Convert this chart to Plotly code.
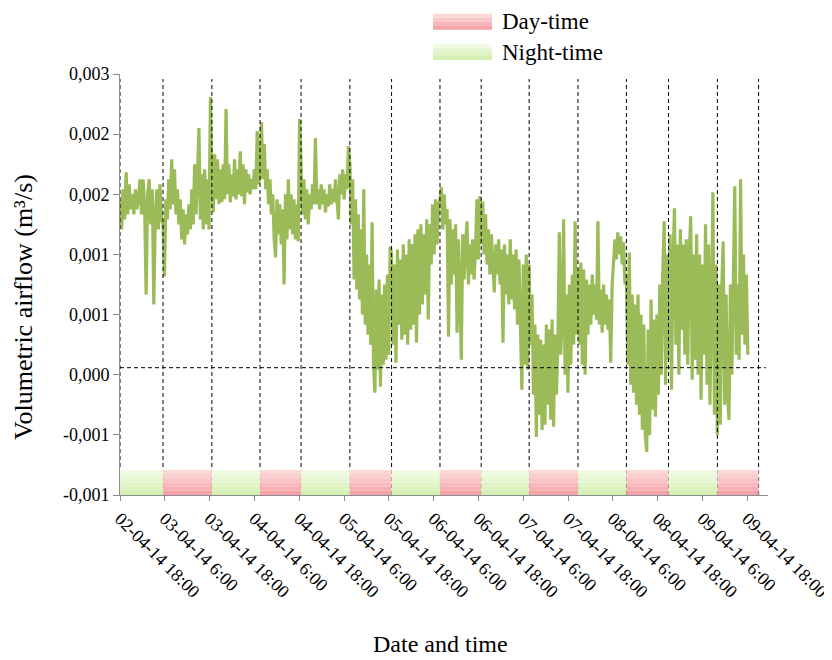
import numpy as np
import plotly.graph_objects as go

# ---------------- data ----------------
tick_labels = ["02-04-14 18:00", "03-04-14 6:00", "03-04-14 18:00", "04-04-14 6:00",
               "04-04-14 18:00", "05-04-14 6:00", "05-04-14 18:00", "06-04-14 6:00",
               "06-04-14 18:00", "07-04-14 6:00", "07-04-14 18:00", "08-04-14 6:00",
               "08-04-14 18:00", "09-04-14 6:00", "09-04-14 18:00"]
tick_pos = list(range(len(tick_labels)))

# boundaries of the 12-hour periods (18:00 / 6:00) on the sample-position axis
period_edges = [0.0, 0.96, 2.05, 3.125, 4.04, 5.13, 6.06, 7.14, 8.06, 9.13,
                10.22, 11.30, 12.24, 13.33, 14.25]
period_kind = ["Night", "Day", "Night", "Day", "Night", "Day", "Night",
               "Day", "Night", "Day", "Night", "Day", "Night", "Day"]
data_end = 14.01

y_ticks = [-0.0012, -0.0006, 0.0, 0.0006, 0.0012, 0.0018, 0.0024, 0.003]
y_tick_text = ["-0,001", "-0,001", "0,000", "0,001", "0,001", "0,002", "0,002", "0,003"]
ref_level = 0.00007

# volumetric airflow per 12 h period, in L/s (= 1e-3 m3/s)
flow_p01 = [1.75, 1.45, 1.85, 1.55, 2.02, 1.6, 1.9, 1.65, 1.8, 1.6, 1.85, 1.65, 1.75, 1.95,
            1.6, 1.95, 1.7, 0.8, 1.8, 1.95, 1.5, 1.85, 0.7, 1.6, 1.85, 1.45, 1.9, 1.55]
flow_p02 = [1.5, 0.98, 1.75, 1.55, 1.95, 1.65, 2.15, 1.7, 2.05, 1.6, 1.85, 1.5, 1.75, 1.35,
            1.65, 1.3, 1.6, 1.4, 1.7, 1.45, 1.85, 1.5, 2.1, 1.6, 2.0, 2.46, 1.55, 2.0, 1.45,
            2.05, 1.5, 1.95, 1.45, 2.77]
flow_p03 = [2.0, 1.62, 2.2, 1.75, 2.15, 1.7, 2.05, 1.72, 2.1, 1.75, 2.65, 1.8, 2.1, 1.72,
            2.0, 1.78, 2.15, 1.75, 2.05, 1.8, 2.23, 1.78, 2.1, 1.7, 2.05, 1.82, 2.0, 1.8,
            1.95, 1.85, 2.05, 1.85, 2.43, 1.9]
flow_p04 = [2.0, 2.52, 1.95, 2.3, 1.85, 2.05, 1.7, 1.95, 1.6, 1.8, 1.35, 1.17, 1.75, 1.4,
            1.7, 1.3, 1.65, 0.9, 1.8, 1.35, 1.95, 1.45, 1.8, 1.4, 1.75, 1.35, 1.7, 1.33, 2.55]
flow_p05 = [1.9, 1.6, 1.95, 1.55, 1.85, 1.5, 1.8, 1.65, 1.9, 1.7, 2.36, 1.7, 1.85, 1.65,
            1.9, 1.7, 1.85, 1.62, 1.8, 1.68, 1.9, 1.7, 1.85, 1.72, 1.95, 1.75, 1.55, 2.0,
            1.8, 2.05, 1.75, 2.0, 1.85, 2.28]
flow_p06 = [2.1, 1.5, 1.95, 0.95, 1.75, 0.85, 1.6, 0.75, 1.45, 0.6, 1.85, 0.5, 1.2, 0.4,
            1.1, 0.3, 1.52, 0.1, -0.18, 0.85, 0.05, 0.95, -0.12, 0.8, 0.1, 0.9, 0.15, 1.0,
            0.2, 1.28]
flow_p07 = [1.2, 0.3, 1.1, 0.12, 1.25, 0.5, 1.15, 0.35, 1.3, 0.4, 1.2, 0.3, 1.35, 0.45,
            1.3, 0.5, 1.4, 0.32, 1.45, 0.6, 1.5, 0.7, 1.4, 0.8, 1.55, 0.55, 1.5, 1.1, 1.7,
            1.2, 1.75, 1.3, 1.7]
flow_p08 = [1.75, 1.87, 1.45, 1.8, 1.5, 1.65, 0.38, 1.55, 0.9, 1.45, 1.0, 1.5, 0.42, 1.35,
            0.85, 0.15, 1.4, 0.95, 1.3, 1.53, 0.9, 1.3, 1.0, 1.35, 0.95, 1.25, 1.75, 1.15, 1.78]
flow_p09 = [1.3, 1.73, 1.2, 1.6, 1.1, 1.45, 1.0, 1.4, 1.05, 0.82, 1.3, 1.0, 1.35, 0.9, 1.25,
            0.32, 1.3, 0.8, 1.2, 0.7, 1.35, 0.75, 1.2, 0.65, 1.25, 0.5, 1.15, 0.4, -0.15,
            1.1, 0.1, 1.2, 0.05]
flow_p10 = [1.1, 0.3, 0.8, -0.2, 0.5, -0.62, 0.4, -0.4, 0.35, -0.55, 0.3, -0.5, 0.5, -0.3,
            0.45, -0.45, 0.55, -0.52, 0.4, -0.2, 0.3, 1.42, 0.2, 0.6, 1.55, 0.0, 0.8, -0.18,
            0.9, 0.1, 1.0, 0.3, 1.53, 0.4]
flow_p11 = [1.05, 0.3, 1.12, 0.1, 1.05, 0.0, 0.95, 0.4, 0.9, 0.5, 1.0, 0.6, 0.9, 0.55, 1.53,
            0.5, 0.85, 0.42, 0.9, 0.5, 0.8, 0.45, 0.75, 0.12, 0.9, 1.1, 1.35, 1.15, 1.42, 1.2,
            1.38, 1.1, 1.32, 0.9]
flow_p12 = [1.0, 0.1, 1.22, -0.1, 0.8, -0.18, 0.7, -0.3, 0.8, -0.4, 0.6, -0.55, 0.5, -0.6,
            -0.77, 0.45, -0.6, 0.75, -0.35, 0.55, -0.42, 0.6, -0.2, 0.9, 0.0, 1.0, 1.53, -0.1,
            1.2]
flow_p13 = [0.15, 1.4, -0.15, 1.1, 1.66, 0.3, 1.3, 0.0, 1.45, 0.45, 1.3, 0.2, 1.35, 0.1, 1.2,
            1.58, -0.05, 1.2, 0.15, 1.4, 0.0, 1.2, -0.25, 1.1, 0.2, 1.5, -0.1, 1.3, -0.3, 1.0,
            1.82, -0.4, 1.1]
flow_p14 = [-0.6, 0.9, -0.5, 0.85, 1.33, -0.3, 0.8, -0.2, -0.45, 0.9, 0.0, 0.95, 1.88, 0.2,
            0.9, 0.15, 1.95, 0.4, 1.2, 0.3, 1.0, 0.2]

flow_periods = [flow_p01, flow_p02, flow_p03, flow_p04, flow_p05, flow_p06, flow_p07,
                flow_p08, flow_p09, flow_p10, flow_p11, flow_p12, flow_p13, flow_p14]

# ---------------- build series ----------------
xs, ys = [], []
for i, seg in enumerate(flow_periods):
    x0 = period_edges[i]
    if i == len(flow_periods) - 1:
        pos = np.linspace(x0, data_end, len(seg))
    else:
        pos = np.linspace(x0, period_edges[i + 1], len(seg), endpoint=False)
    xs.extend(pos.tolist())
    ys.extend([v / 1000.0 for v in seg])

SERIF = "Liberation Serif, Times New Roman, serif"
LINE_GREEN = "#9BBB59"
DAY_TOP, DAY_BOT = (252, 216, 216), (244, 164, 168)
NIGHT_TOP, NIGHT_BOT = (241, 251, 228), (212, 240, 180)

fig = go.Figure()
fig.add_trace(go.Scatter(x=xs, y=ys, mode="lines",
                         line=dict(color=LINE_GREEN, width=3.2),
                         showlegend=False, hoverinfo="skip"))

shapes = []
# vertical dashed lines at period boundaries
for e in period_edges:
    shapes.append(dict(type="line", xref="x", yref="y", x0=e, x1=e, y0=-0.0012, y1=0.00295,
                       line=dict(color="black", width=1, dash="4px,3px"), layer="above"))
# horizontal reference line
shapes.append(dict(type="line", xref="x", yref="y", x0=0, x1=14.41, y0=ref_level, y1=ref_level,
                   line=dict(color="black", width=1, dash="4px,3px"), layer="above"))


def grad_rects(x0, x1, y_top, y_bot, c_top, c_bot, xref, yref, n=6):
    out = []
    for k in range(n):
        t = k / (n - 1)
        c = tuple(int(round(c_top[j] + (c_bot[j] - c_top[j]) * t)) for j in range(3))
        ya = y_top + (y_bot - y_top) * k / n
        yb = y_top + (y_bot - y_top) * (k + 1) / n
        out.append(dict(type="rect", xref=xref, yref=yref, x0=x0, x1=x1, y0=yb, y1=ya,
                        fillcolor="rgb(%d,%d,%d)" % c, line=dict(width=0), layer="above"))
    return out


band_top, band_bot = -0.00095, -0.0012
for i, kind in enumerate(period_kind):
    ct, cb = (DAY_TOP, DAY_BOT) if kind == "Day" else (NIGHT_TOP, NIGHT_BOT)
    shapes += grad_rects(period_edges[i], period_edges[i + 1], band_top, band_bot, ct, cb, "x", "y")

# legend swatches (paper coordinates)
shapes += grad_rects(0.483, 0.574, 1.143, 1.105, DAY_TOP, DAY_BOT, "paper", "paper", n=4)
shapes += grad_rects(0.483, 0.574, 1.071, 1.033, NIGHT_TOP, NIGHT_BOT, "paper", "paper", n=4)

annotations = [
    dict(text="Day-time", x=0.586, y=1.124, xref="paper", yref="paper", xanchor="left",
         yanchor="middle", showarrow=False, font=dict(family=SERIF, size=23, color="black")),
    dict(text="Night-time", x=0.586, y=1.052, xref="paper", yref="paper", xanchor="left",
         yanchor="middle", showarrow=False, font=dict(family=SERIF, size=23, color="black")),
    dict(text="Volumetric airflow (m\u00b3/s)", x=-0.148, y=0.447, xref="paper", yref="paper",
         textangle=-90, showarrow=False, xanchor="center", yanchor="middle",
         font=dict(family=SERIF, size=26, color="black")),
    dict(text="Date and time", x=0.495, y=-0.355, xref="paper", yref="paper",
         showarrow=False, xanchor="center", yanchor="middle",
         font=dict(family=SERIF, size=24, color="black")),
]

# page body has an 8px margin: figure is 8px smaller so the plot lands on the same pixels
fig.update_layout(
    width=824, height=652,
    margin=dict(l=112, r=64, t=66, b=165, pad=0, autoexpand=False),
    paper_bgcolor="white", plot_bgcolor="white",
    shapes=shapes, annotations=annotations,
    showlegend=False,
    font=dict(family=SERIF, size=18, color="black"),
)
fig.update_xaxes(range=[0, 14.46], tickmode="array", tickvals=tick_pos, ticktext=tick_labels,
                 tickangle=45, showgrid=False, zeroline=False, ticklabeloverflow="allow",
                 automargin=False,
                 showline=True, linecolor="#8C8C8C", linewidth=1,
                 ticks="outside", ticklen=5, tickcolor="#8C8C8C",
                 tickfont=dict(family=SERIF, size=18, color="black"))
fig.update_yaxes(range=[-0.0012, 0.003], tickmode="array", tickvals=y_ticks, ticktext=y_tick_text,
                 showgrid=False, zeroline=False, automargin=False,
                 showline=True, linecolor="#8C8C8C", linewidth=1,
                 ticks="outside", ticklen=6, tickcolor="#8C8C8C",
                 tickfont=dict(family=SERIF, size=18, color="black"))

fig.write_html("out.html")
